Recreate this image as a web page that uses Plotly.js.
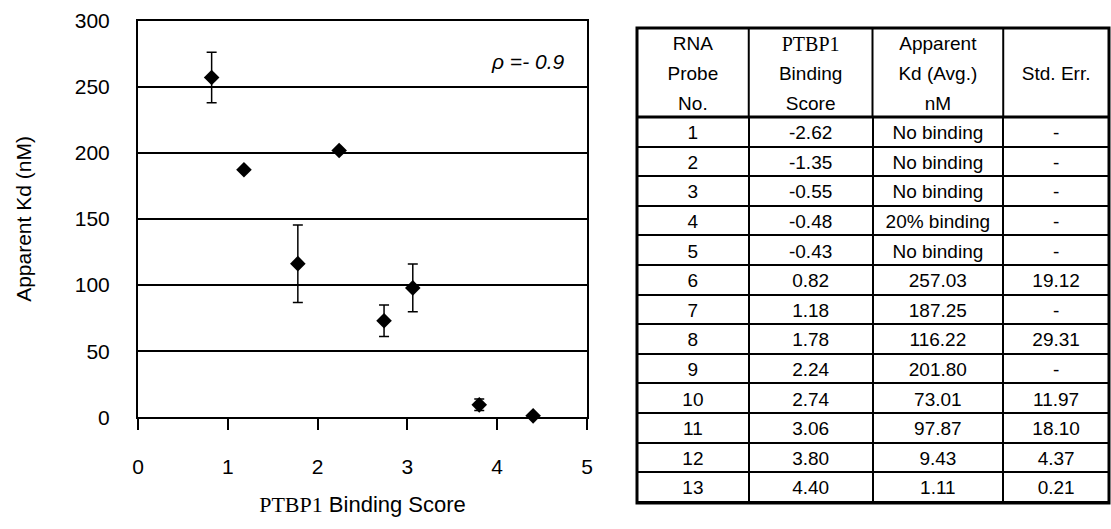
<!DOCTYPE html>
<html>
<head>
<meta charset="utf-8">
<script src="https://cdn.plot.ly/plotly-3.0.1.min.js"></script>
<style>
  html, body { margin: 0; padding: 0; background: #fff; }
  #chart { width: 1111px; height: 529px; }
</style>
</head>
<body>
<div id="chart"></div>
<script>
// ---- data ----
const probeNo = [1, 2, 3, 4, 5, 6, 7, 8, 9, 10, 11, 12, 13];
const bindingScore = [-2.62, -1.35, -0.55, -0.48, -0.43, 0.82, 1.18, 1.78, 2.24, 2.74, 3.06, 3.80, 4.40];
const kdAvg = [null, null, null, null, null, 257.03, 187.25, 116.22, 201.80, 73.01, 97.87, 9.43, 1.11];
const kdNote = ['No binding', 'No binding', 'No binding', '20% binding', 'No binding', null, null, null, null, null, null, null, null];
const stdErr = [null, null, null, null, null, 19.12, null, 29.31, null, 11.97, 18.10, 4.37, 0.21];
const headerLabels = [
  ['RNA', 'Probe', 'No.'],
  ['PTBP1', 'Binding', 'Score'],
  ['Apparent', 'Kd (Avg.)', 'nM'],
  ['', 'Std. Err.', '']
];
const xTickVals = [0, 1, 2, 3, 4, 5];
const yTickVals = [0, 50, 100, 150, 200, 250, 300];
const rhoText = '\u03C1 =- 0.9';

// ---- derived series for the scatter (probes with a measured Kd) ----
const idx = kdAvg.map((v, i) => v === null ? -1 : i).filter(i => i >= 0);
const sx = idx.map(i => bindingScore[i]);
const sy = idx.map(i => kdAvg[i]);
const se = idx.map(i => stdErr[i]);

// ---- table columns ----
const colNo = probeNo.map(String);
const colScore = bindingScore.map(v => v.toFixed(2));
const colKd = kdAvg.map((v, i) => v === null ? kdNote[i] : v.toFixed(2));
const colErr = stdErr.map(v => v === null ? '-' : v.toFixed(2));

const W = 1111, H = 529;
const mL = 138, mR = 1, mT = 20, mB = 26;
const pw = W - mL - mR, ph = H - mT - mB;
const px = v => (v - mL) / pw;          // pixel -> paper x
const py = v => (H - mB - v) / ph;      // pixel -> paper y

const font = 'Arial, "Liberation Sans", sans-serif';
const serif = '"Liberation Serif", "Times New Roman", Times, serif';

// table geometry (styling)
const tL = 637, tR = 1109, tT = 28, tB = 503, hdrB = 117;
const colW = [112, 124, 131, 106];
const colSum = colW.reduce((a, b) => a + b, 0);
const colEdges = [];
{ let acc = tL; for (let i = 0; i < colW.length - 1; i++) { acc += colW[i] * (tR - tL) / colSum; colEdges.push(acc); } }

const scatter = {
  type: 'scatter', mode: 'markers',
  x: sx, y: sy,
  marker: { symbol: 'diamond', size: 12, color: '#000' },
  error_y: { type: 'data', array: se, visible: true, color: '#000', thickness: 1.5, width: 5 },
  cliponaxis: false,
  showlegend: false, hoverinfo: 'x+y'
};

const table = {
  type: 'table',
  domain: { x: [px(tL), px(tR)], y: [py(tB), py(tT)] },
  columnwidth: colW,
  header: {
    values: headerLabels,
    align: 'center',
    height: (hdrB - tT) / 3,
    line: { color: 'rgba(0,0,0,0)', width: 0 },
    fill: { color: '#fff' },
    font: {
      family: [font, [serif, font, font], font, font],
      size: [19, [20, 19, 19], 19, 19],
      color: '#000'
    }
  },
  cells: {
    values: [colNo, colScore, colKd, colErr],
    align: 'center',
    height: 29.6,
    line: { color: '#000', width: 2 },
    fill: { color: '#fff' },
    font: { family: font, size: 19, color: '#000' }
  }
};

const shapes = [
  { type: 'rect', xref: 'paper', yref: 'paper', x0: px(tL), x1: px(tR), y0: py(tB), y1: py(tT),
    line: { color: '#000', width: 3 } },
  { type: 'line', xref: 'paper', yref: 'paper', x0: px(tL), x1: px(tR), y0: py(hdrB), y1: py(hdrB),
    line: { color: '#000', width: 3 } }
];
colEdges.forEach(e => shapes.push({
  type: 'line', xref: 'paper', yref: 'paper', x0: px(e), x1: px(e), y0: py(hdrB), y1: py(tT),
  line: { color: '#000', width: 2 }
}));

const layout = {
  width: W, height: H,
  margin: { l: mL, r: mR, t: mT, b: mB, pad: 0 },
  paper_bgcolor: '#fff', plot_bgcolor: '#fff',
  font: { family: font, color: '#000' },
  showlegend: false,
  xaxis: {
    domain: [0, px(587)],
    range: [0, 5], tickvals: xTickVals, ticktext: xTickVals.map(String),
    showgrid: false, zeroline: false,
    showline: true, mirror: true, linecolor: '#000', linewidth: 2,
    ticks: 'outside', ticklen: 11, tickwidth: 2, tickcolor: '#000',
    ticklabelstandoff: 18,
    tickfont: { family: font, size: 21, color: '#000' },
    title: {
      text: '<span style="font-family:Times">PTBP1</span> Binding Score',
      font: { family: font, size: 22, color: '#000' },
      standoff: 20
    },
    fixedrange: true
  },
  yaxis: {
    domain: [py(417.3), py(20.7)],
    range: [0, 300], tickvals: yTickVals, ticktext: yTickVals.map(String),
    showgrid: true, gridcolor: '#000', gridwidth: 2, zeroline: false,
    showline: true, mirror: true, linecolor: '#000', linewidth: 2,
    ticks: 'outside', ticklen: 22, tickcolor: 'rgba(0,0,0,0)',
    tickfont: { family: font, size: 21, color: '#000' },
    title: {
      text: 'Apparent Kd (nM)',
      font: { family: font, size: 21, color: '#000' },
      standoff: 37
    },
    fixedrange: true
  },
  annotations: [{
    xref: 'x', yref: 'y', x: 4.34, y: 269,
    text: '<i>' + rhoText + '</i>', showarrow: false,
    font: { family: font, size: 21, color: '#000' }
  }],
  shapes: shapes
};

Plotly.newPlot('chart', [scatter, table], layout, { displayModeBar: false, staticPlot: true });
</script>
</body>
</html>
